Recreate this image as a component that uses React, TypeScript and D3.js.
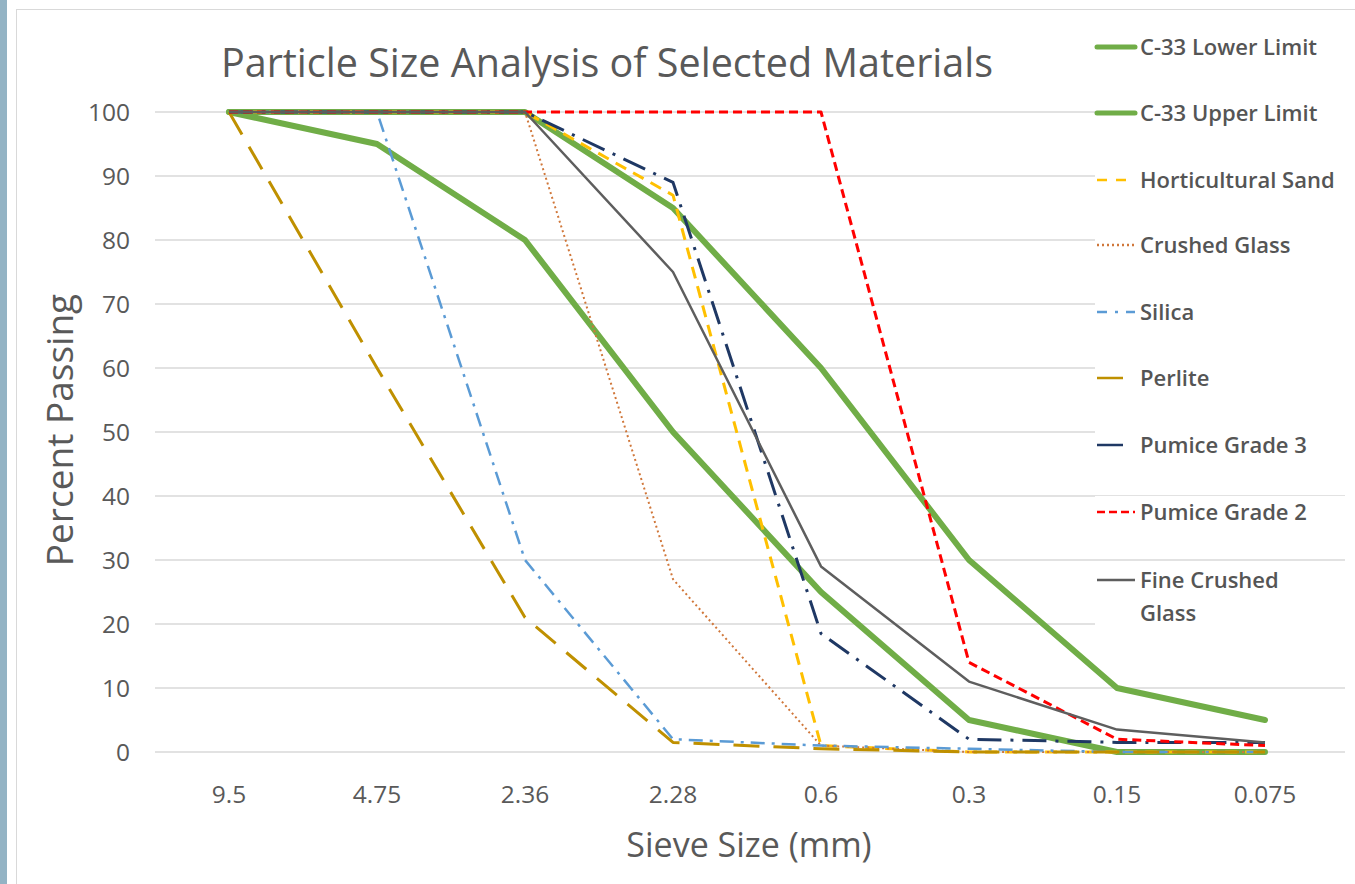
import React from "react";
import * as d3 from "d3";

const sieveSizes = ["9.5", "4.75", "2.36", "2.28", "0.6", "0.3", "0.15", "0.075"];
const yTicks = [0, 10, 20, 30, 40, 50, 60, 70, 80, 90, 100];

const c33Lower = [100, 95, 80, 50, 25, 5, 0, 0];
const c33Upper = [100, 100, 100, 85, 60, 30, 10, 5];
const horticulturalSand = [100, 100, 100, 87, 1, 0, 0, 0];
const crushedGlass = [100, 100, 100, 27, 1, 0, 0, 0];
const silica = [100, 100, 30, 2, 1, 0.5, 0, 0];
const perlite = [100, 60, 21, 1.5, 0.5, 0, 0, 0];
const pumiceGrade3 = [100, 100, 100, 89, 18.5, 2, 1.5, 1.5];
const pumiceGrade2 = [100, 100, 100, 100, 100, 14, 2, 1];
const fineCrushedGlass = [100, 100, 100, 75, 29, 11, 3.5, 1.5];

const seriesNames = [
  "C-33 Lower Limit",
  "C-33 Upper Limit",
  "Horticultural Sand",
  "Crushed Glass",
  "Silica",
  "Perlite",
  "Pumice Grade 3",
  "Pumice Grade 2",
  "Fine Crushed Glass",
];
const seriesValues = [
  c33Lower,
  c33Upper,
  horticulturalSand,
  crushedGlass,
  silica,
  perlite,
  pumiceGrade3,
  pumiceGrade2,
  fineCrushedGlass,
];

const styles = [
  { color: "#70AD47", width: 6, dash: "", legendDash: "" },
  { color: "#70AD47", width: 6, dash: "", legendDash: "" },
  { color: "#FFC000", width: 3, dash: "12,8", legendDash: "10,9" },
  { color: "#D0773A", width: 2, dash: "2,3", legendDash: "2,3" },
  { color: "#5B9BD5", width: 2.5, dash: "14,7,3,7", legendDash: "10,8,3,8" },
  { color: "#BF9000", width: 3, dash: "26,14", legendDash: "" },
  { color: "#1F3864", width: 3, dash: "24,9,3,9", legendDash: "" },
  { color: "#FF0000", width: 3, dash: "9,5", legendDash: "8,4" },
  { color: "#5E5E5E", width: 2.5, dash: "", legendDash: "" },
];

const drawOrder = [0, 1, 2, 3, 4, 5, 6, 7, 8];

export default function App() {
  const W = 1355;
  const H = 884;
  const plotLeft = 155;
  const plotRight = 1339;
  const gridRight = 1345;
  const top = 112;
  const bottom = 752;

  const x = d3.scalePoint<string>().domain(sieveSizes).range([plotLeft, plotRight]).padding(0.5);
  const y = d3.scaleLinear().domain([0, 100]).range([bottom, top]);
  const line = d3
    .line<number>()
    .x((_, i) => x(sieveSizes[i]) as number)
    .y((d) => y(d));

  const legendX = 1097;
  const legendYs = [47, 113, 180, 245, 312, 378, 445, 512, 580];
  const textColor = "#595959";

  return (
    <svg
      width={W}
      height={H}
      style={{ position: "absolute", left: 0, top: 0, background: "#fff" }}
      fontFamily="'Open Sans', 'Noto Sans', sans-serif"
    >
      <rect x={0} y={0} width={7} height={H} fill="#93B3C4" />
      <rect x={16.5} y={9.5} width={W} height={H} fill="#fff" stroke="#D9D9D9" strokeWidth={1} />

      {yTicks.map((t) => (
        <line key={t} x1={plotLeft} x2={gridRight} y1={y(t)} y2={y(t)} stroke="#D9D9D9" strokeWidth={1.5} />
      ))}

      {yTicks.map((t) => (
        <text key={t} x={130} y={y(t)} dy="0.36em" textAnchor="end" fontSize={24.5} fill={textColor}>
          {t}
        </text>
      ))}

      {sieveSizes.map((s) => (
        <text key={s} x={x(s)} y={803} textAnchor="middle" fontSize={24.5} fill={textColor}>
          {s}
        </text>
      ))}

      {drawOrder.map((i) => (
        <path
          key={seriesNames[i]}
          d={line(seriesValues[i]) || ""}
          fill="none"
          stroke={styles[i].color}
          strokeWidth={styles[i].width}
          strokeDasharray={styles[i].dash || undefined}
          strokeLinejoin="round"
          strokeLinecap={styles[i].width >= 6 ? "round" : "butt"}
        />
      ))}

      <text x={607} y={77} textAnchor="middle" fontSize={39.5} fill={textColor}>
        Particle Size Analysis of Selected Materials
      </text>

      <text
        transform={`translate(73, 430) rotate(-90)`}
        textAnchor="middle"
        fontSize={37}
        fill={textColor}
      >
        Percent Passing
      </text>
      <text x={749} y={857} textAnchor="middle" fontSize={34} fill={textColor}>
        Sieve Size (mm)
      </text>

      {seriesNames.map((name, i) => {
        const ly = legendYs[i];
        const st = styles[i];
        return (
          <g key={name}>
            <rect x={legendX - 2} y={ly - 16} width={250} height={i === 8 ? 66 : 32} fill="#fff" />
            <line
              x1={legendX}
              x2={i === 5 || i === 6 ? 1123 : 1135}
              y1={ly}
              y2={ly}
              stroke={st.color}
              strokeWidth={i <= 1 ? 5 : 2.5}
              strokeLinecap={i <= 1 ? "round" : "butt"}
              strokeDasharray={st.legendDash || undefined}
            />
            {i === 8 ? (
              <text x={1140} y={ly} dy="0.35em" fontSize={22} fontWeight={600} fill="#555">
                <tspan x={1140}>Fine Crushed</tspan>
                <tspan x={1140} dy={33}>Glass</tspan>
              </text>
            ) : (
              <text x={1140} y={ly} dy="0.35em" fontSize={22} fontWeight={600} fill="#555">
                {name}
              </text>
            )}
          </g>
        );
      })}
    </svg>
  );
}
